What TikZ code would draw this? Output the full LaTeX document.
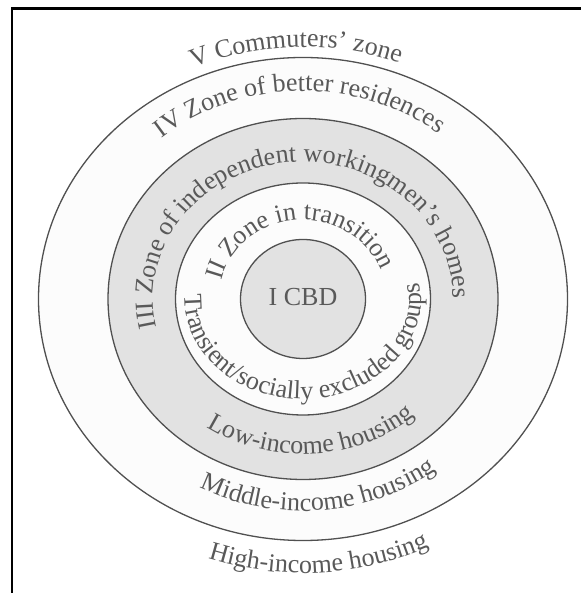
\documentclass[tikz,border=0pt]{standalone}
\usepackage{fontspec}
\setmainfont{Liberation Serif}
\usetikzlibrary{decorations.text}

\definecolor{ringline}{HTML}{505050}
\definecolor{ringfill}{HTML}{E2E2E2}
\definecolor{lightzone}{HTML}{FCFCFC}
\definecolor{labeltext}{HTML}{595959}

\newcommand{\zonefont}{\fontsize{26}{31}\selectfont\color{labeltext}}

\tikzset{
  zoneline/.style={draw=ringline, line width=1.3pt},
  frameline/.style={draw=black, line width=2.5pt},
  % text set along an elliptical arc, centred on the arc
  arclabel/.style={decorate, decoration={text along path,
      text={|\zonefont|#1}, text align=center}}
}

\begin{document}
\begin{tikzpicture}[x=1pt, y=1pt]
\useasboundingbox (0,0) rectangle (581,593);
\fill[white] (0,0) rectangle (581,593);

\coordinate (C) at (303,294);

% zones, outside in
\fill[lightzone] (C) ellipse[x radius=264.5pt, y radius=241.5pt];
\fill[ringfill]  (C) ellipse[x radius=195pt,   y radius=180.5pt];
\fill[lightzone] (C) ellipse[x radius=127.5pt, y radius=116pt];
\fill[ringfill]  (C) ellipse[x radius=62.5pt,  y radius=59.5pt];

\draw[zoneline] (C) ellipse[x radius=264.5pt, y radius=241.5pt];
\draw[zoneline] (C) ellipse[x radius=195pt,   y radius=180.5pt];
\draw[zoneline] (C) ellipse[x radius=127.5pt, y radius=116pt];
\draw[zoneline] (C) ellipse[x radius=62.5pt,  y radius=59.5pt];

\node[text=labeltext, font=\fontsize{26}{31}\selectfont, inner sep=0pt] (cbd) at (303,296) {I CBD};

% labels over the top of each ring (clockwise arcs)
\path[arclabel={V Commuters' zone}]
  (C) ++(122.5:275pt and 252pt) arc[start angle=122.5, end angle=60.5, x radius=275pt, y radius=252pt];
\path[arclabel={IV Zone of better residences}]
  (C) ++(143:223pt and 208pt) arc[start angle=143, end angle=39, x radius=223pt, y radius=208pt];
\path[arclabel={III Zone of independent workingmen's homes}]
  (C) ++(211:150pt and 137pt) arc[start angle=211, end angle=-19, x radius=150pt, y radius=137pt];
\path[arclabel={II Zone in transition}]
  (C) ++(174:84pt and 79pt) arc[start angle=174, end angle=14, x radius=84pt, y radius=79pt];

% labels under the bottom of each ring (anticlockwise arcs)
\path[arclabel={Transient/socially excluded groups}]
  (C) ++(161.5:118pt and 100pt) arc[start angle=161.5, end angle=385.5, x radius=118pt, y radius=100pt];
\path[arclabel={Low-income housing}]
  (C) ++(221.5:170pt and 155pt) arc[start angle=221.5, end angle=325.5, x radius=170pt, y radius=155pt];
\path[arclabel={Middle-income housing}]
  (C) ++(232.5:227pt and 212pt) arc[start angle=232.5, end angle=316.5, x radius=227pt, y radius=212pt];
\path[arclabel={High-income housing}]
  (C) ++(236.3:296pt and 274pt) arc[start angle=236.3, end angle=310.3, x radius=296pt, y radius=274pt];

% frame along the top and left edges
\coordinate (fb) at (12,0);
\coordinate (fc) at (12,584.5);
\coordinate (fr) at (581,584.5);
\draw[frameline] (fb) -- (fc) -- (fr);
\end{tikzpicture}
\end{document}
